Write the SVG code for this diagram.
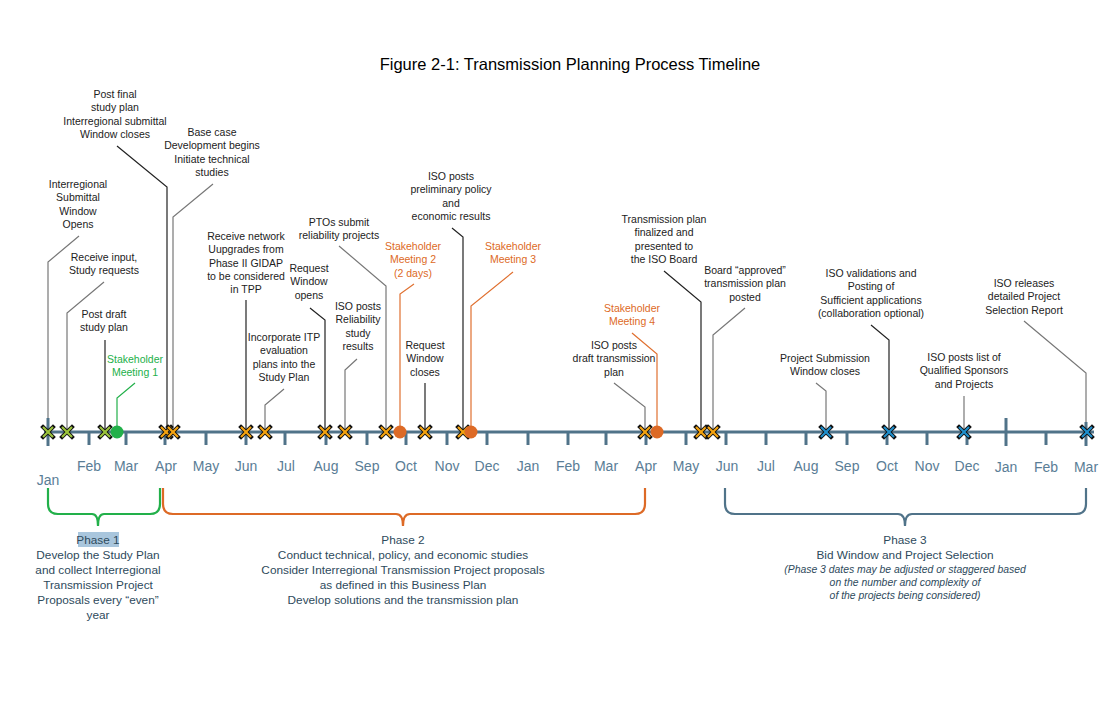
<svg xmlns="http://www.w3.org/2000/svg" width="1117" height="728" viewBox="0 0 1117 728">
<defs>
<style>
.t{font-family:"Liberation Sans",Arial,sans-serif;font-size:10.5px;fill:#222;text-anchor:middle}
.tg{fill:#22b04a}
.to{fill:#dd6a26}
.m{font-family:"Liberation Sans",Arial,sans-serif;font-size:14px;fill:#5a7d96;text-anchor:middle}
.ph{font-family:"Liberation Sans",Arial,sans-serif;font-size:11.8px;fill:#2e4a5c;text-anchor:middle}
.phi{font-family:"Liberation Sans",Arial,sans-serif;font-size:10.4px;font-style:italic;fill:#2e4a5c;text-anchor:middle}
.ld{fill:none;stroke:#222;stroke-width:1.2}
.lg{fill:none;stroke:#777;stroke-width:1.2}
.lo{fill:none;stroke:#e07030;stroke-width:1.2}
.lgr{fill:none;stroke:#22b04a;stroke-width:1.2}
.ax{stroke:#507389;stroke-width:3;fill:none}
.tk{stroke:#507389;stroke-width:3}
.xo{stroke:#111;stroke-width:4;stroke-linecap:square}
.xg{stroke:#9cc43c;stroke-width:2.2}
.xy{stroke:#f5a30f;stroke-width:2.2}
.xb{stroke:#1f8fcc;stroke-width:2.2}
.br{fill:none;stroke-width:2.2}
</style>
<g id="xmk"><line class="xo" x1="-5" y1="-5" x2="5" y2="5"/><line class="xo" x1="-5" y1="5" x2="5" y2="-5"/></g>
</defs>
<rect width="1117" height="728" fill="#fff"/>
<text x="570" y="70" font-family="Liberation Sans, Arial, sans-serif" font-size="16.5" text-anchor="middle" fill="#000">Figure 2-1: Transmission Planning Process Timeline</text>

<g id="connectors">
<polyline class="lg" points="79,236 48,262 48,432"/>
<polyline class="lg" points="104,282 67,313 67,432"/>
<polyline class="ld" points="105,340 105,432"/>
<polyline class="lgr" points="135,383 117,398 117,432"/>
<polyline class="ld" points="117,146 167,187 167,432"/>
<polyline class="lg" points="213,184 173,217 173,432"/>
<polyline class="ld" points="246,300 246,432"/>
<polyline class="lg" points="284,389 265,405 265,432"/>
<polyline class="ld" points="310,308 325,320 325,432"/>
<polyline class="lg" points="357,359 345,370 345,432"/>
<polyline class="lg" points="339,246 386,286 386,432"/>
<polyline class="lo" points="414,284 400,294 400,432"/>
<polyline class="ld" points="425,383 425,432"/>
<polyline class="ld" points="452,228 463,237 463,432"/>
<polyline class="lo" points="513,272 471,306 471,432"/>
<polyline class="lg" points="614,383 645,407 645,432"/>
<polyline class="lo" points="632,333 657,354 657,432"/>
<polyline class="ld" points="664,271 701,302 701,432"/>
<polyline class="lg" points="745,308 713,335 713,432"/>
<polyline class="lg" points="816,383 826,391 826,432"/>
<polyline class="ld" points="871,325 889,340 889,432"/>
<polyline class="lg" points="964,396 964,432"/>
<polyline class="lg" points="1024,321 1086,373 1086,432"/>
</g>

<g id="axis">
<line class="ax" x1="44" y1="432" x2="1094" y2="432"/>
<line class="tk" x1="48" y1="418" x2="48" y2="446"/>
<line class="tk" x1="89" y1="432" x2="89" y2="445"/>
<line class="tk" x1="126" y1="432" x2="126" y2="445"/>
<line class="tk" x1="165" y1="432" x2="165" y2="445"/>
<line class="tk" x1="206" y1="432" x2="206" y2="445"/>
<line class="tk" x1="246" y1="432" x2="246" y2="445"/>
<line class="tk" x1="285" y1="432" x2="285" y2="445"/>
<line class="tk" x1="326" y1="432" x2="326" y2="445"/>
<line class="tk" x1="367" y1="432" x2="367" y2="445"/>
<line class="tk" x1="406" y1="432" x2="406" y2="445"/>
<line class="tk" x1="447" y1="432" x2="447" y2="445"/>
<line class="tk" x1="487" y1="432" x2="487" y2="445"/>
<line class="tk" x1="528" y1="432" x2="528" y2="445"/>
<line class="tk" x1="568" y1="432" x2="568" y2="445"/>
<line class="tk" x1="606" y1="432" x2="606" y2="445"/>
<line class="tk" x1="646" y1="432" x2="646" y2="445"/>
<line class="tk" x1="686" y1="432" x2="686" y2="445"/>
<line class="tk" x1="726" y1="432" x2="726" y2="445"/>
<line class="tk" x1="766" y1="432" x2="766" y2="445"/>
<line class="tk" x1="806" y1="432" x2="806" y2="445"/>
<line class="tk" x1="847" y1="432" x2="847" y2="445"/>
<line class="tk" x1="887" y1="432" x2="887" y2="445"/>
<line class="tk" x1="927" y1="432" x2="927" y2="445"/>
<line class="tk" x1="967" y1="432" x2="967" y2="445"/>
<line class="tk" x1="1006" y1="418" x2="1006" y2="446"/>
<line class="tk" x1="1046" y1="432" x2="1046" y2="445"/>
<line class="tk" x1="1086" y1="422" x2="1086" y2="446"/>
<text class="m" x="48" y="485">Jan</text>
<text class="m" x="89" y="471">Feb</text>
<text class="m" x="126" y="471">Mar</text>
<text class="m" x="166" y="471">Apr</text>
<text class="m" x="206" y="471">May</text>
<text class="m" x="246" y="471">Jun</text>
<text class="m" x="286" y="471">Jul</text>
<text class="m" x="326" y="471">Aug</text>
<text class="m" x="367" y="471">Sep</text>
<text class="m" x="406" y="471">Oct</text>
<text class="m" x="447" y="471">Nov</text>
<text class="m" x="487" y="471">Dec</text>
<text class="m" x="528" y="471">Jan</text>
<text class="m" x="568" y="471">Feb</text>
<text class="m" x="606" y="471">Mar</text>
<text class="m" x="646" y="471">Apr</text>
<text class="m" x="686" y="471">May</text>
<text class="m" x="727" y="471">Jun</text>
<text class="m" x="766" y="471">Jul</text>
<text class="m" x="806" y="471">Aug</text>
<text class="m" x="847" y="471">Sep</text>
<text class="m" x="887" y="471">Oct</text>
<text class="m" x="927" y="471">Nov</text>
<text class="m" x="967" y="471">Dec</text>
<text class="m" x="1006" y="472">Jan</text>
<text class="m" x="1046" y="472">Feb</text>
<text class="m" x="1086" y="472">Mar</text>
</g>

<g id="markers">
<g transform="translate(48,432)"><use href="#xmk"/><line class="xg" x1="-5" y1="-5" x2="5" y2="5"/><line class="xg" x1="-5" y1="5" x2="5" y2="-5"/></g>
<g transform="translate(67,432)"><use href="#xmk"/><line class="xg" x1="-5" y1="-5" x2="5" y2="5"/><line class="xg" x1="-5" y1="5" x2="5" y2="-5"/></g>
<g transform="translate(105,432)"><use href="#xmk"/><line class="xg" x1="-5" y1="-5" x2="5" y2="5"/><line class="xg" x1="-5" y1="5" x2="5" y2="-5"/></g>
<circle cx="117" cy="432" r="6.5" fill="#22b04a"/>
<g transform="translate(166,432)"><use href="#xmk"/><line class="xy" x1="-5" y1="-5" x2="5" y2="5"/><line class="xy" x1="-5" y1="5" x2="5" y2="-5"/></g>
<g transform="translate(173,432)"><use href="#xmk"/><line class="xy" x1="-5" y1="-5" x2="5" y2="5"/><line class="xy" x1="-5" y1="5" x2="5" y2="-5"/></g>
<g transform="translate(246,432)"><use href="#xmk"/><line class="xy" x1="-5" y1="-5" x2="5" y2="5"/><line class="xy" x1="-5" y1="5" x2="5" y2="-5"/></g>
<g transform="translate(265,432)"><use href="#xmk"/><line class="xy" x1="-5" y1="-5" x2="5" y2="5"/><line class="xy" x1="-5" y1="5" x2="5" y2="-5"/></g>
<g transform="translate(325,432)"><use href="#xmk"/><line class="xy" x1="-5" y1="-5" x2="5" y2="5"/><line class="xy" x1="-5" y1="5" x2="5" y2="-5"/></g>
<g transform="translate(345,432)"><use href="#xmk"/><line class="xy" x1="-5" y1="-5" x2="5" y2="5"/><line class="xy" x1="-5" y1="5" x2="5" y2="-5"/></g>
<g transform="translate(386,432)"><use href="#xmk"/><line class="xy" x1="-5" y1="-5" x2="5" y2="5"/><line class="xy" x1="-5" y1="5" x2="5" y2="-5"/></g>
<circle cx="400" cy="432" r="6.5" fill="#dd6a26"/>
<g transform="translate(425,432)"><use href="#xmk"/><line class="xy" x1="-5" y1="-5" x2="5" y2="5"/><line class="xy" x1="-5" y1="5" x2="5" y2="-5"/></g>
<g transform="translate(463,432)"><use href="#xmk"/><line class="xy" x1="-5" y1="-5" x2="5" y2="5"/><line class="xy" x1="-5" y1="5" x2="5" y2="-5"/></g>
<circle cx="471" cy="432" r="6.5" fill="#dd6a26"/>
<g transform="translate(645,432)"><use href="#xmk"/><line class="xy" x1="-5" y1="-5" x2="5" y2="5"/><line class="xy" x1="-5" y1="5" x2="5" y2="-5"/></g>
<circle cx="657" cy="432" r="6.5" fill="#dd6a26"/>
<g transform="translate(701,432)"><use href="#xmk"/><line class="xy" x1="-5" y1="-5" x2="5" y2="5"/><line class="xy" x1="-5" y1="5" x2="5" y2="-5"/></g>
<g transform="translate(713,432)"><use href="#xmk"/><line class="xy" x1="-5" y1="-5" x2="5" y2="5"/><line class="xy" x1="-5" y1="5" x2="5" y2="-5"/></g>
<g transform="translate(826,432)"><use href="#xmk"/><line class="xb" x1="-5" y1="-5" x2="5" y2="5"/><line class="xb" x1="-5" y1="5" x2="5" y2="-5"/></g>
<g transform="translate(889,432)"><use href="#xmk"/><line class="xb" x1="-5" y1="-5" x2="5" y2="5"/><line class="xb" x1="-5" y1="5" x2="5" y2="-5"/></g>
<g transform="translate(964,432)"><use href="#xmk"/><line class="xb" x1="-5" y1="-5" x2="5" y2="5"/><line class="xb" x1="-5" y1="5" x2="5" y2="-5"/></g>
<g transform="translate(1087,432)"><use href="#xmk"/><line class="xb" x1="-5" y1="-5" x2="5" y2="5"/><line class="xb" x1="-5" y1="5" x2="5" y2="-5"/></g>
</g>

<g id="label1"><text class="t" x="78" y="188"><tspan x="78">Interregional</tspan><tspan x="78" dy="13.3">Submittal</tspan><tspan x="78" dy="13.3">Window</tspan><tspan x="78" dy="13.3">Opens</tspan></text></g>
<g id="label2"><text class="t" x="104" y="261"><tspan x="104">Receive input,</tspan><tspan x="104" dy="13.3">Study requests</tspan></text></g>
<g id="label3"><text class="t" x="104" y="318"><tspan x="104">Post draft</tspan><tspan x="104" dy="13.3">study plan</tspan></text></g>
<g id="label4"><text class="t tg" x="135" y="363"><tspan x="135">Stakeholder</tspan><tspan x="135" dy="13.3">Meeting 1</tspan></text></g>
<g id="label5"><text class="t" x="115" y="98"><tspan x="115">Post final</tspan><tspan x="115" dy="13.3">study plan</tspan><tspan x="115" dy="13.3">Interregional submittal</tspan><tspan x="115" dy="13.3">Window closes</tspan></text></g>
<g id="label6"><text class="t" x="212" y="136"><tspan x="212">Base case</tspan><tspan x="212" dy="13.3">Development begins</tspan><tspan x="212" dy="13.3">Initiate technical</tspan><tspan x="212" dy="13.3">studies</tspan></text></g>
<g id="label7"><text class="t" x="246" y="240"><tspan x="246">Receive network</tspan><tspan x="246" dy="13.3">Uupgrades from</tspan><tspan x="246" dy="13.3">Phase II GIDAP</tspan><tspan x="246" dy="13.3">to be considered</tspan><tspan x="246" dy="13.3">in TPP</tspan></text></g>
<g id="label8"><text class="t" x="284" y="341"><tspan x="284">Incorporate ITP</tspan><tspan x="284" dy="13.3">evaluation</tspan><tspan x="284" dy="13.3">plans into the</tspan><tspan x="284" dy="13.3">Study Plan</tspan></text></g>
<g id="label9"><text class="t" x="309" y="272"><tspan x="309">Request</tspan><tspan x="309" dy="13.3">Window</tspan><tspan x="309" dy="13.3">opens</tspan></text></g>
<g id="label10"><text class="t" x="358" y="310"><tspan x="358">ISO posts</tspan><tspan x="358" dy="13.3">Reliability</tspan><tspan x="358" dy="13.3">study</tspan><tspan x="358" dy="13.3">results</tspan></text></g>
<g id="label11"><text class="t" x="339" y="226"><tspan x="339">PTOs submit</tspan><tspan x="339" dy="13.3">reliability projects</tspan></text></g>
<g id="label12"><text class="t to" x="413" y="250"><tspan x="413">Stakeholder</tspan><tspan x="413" dy="13.3">Meeting 2</tspan><tspan x="413" dy="13.3">(2 days)</tspan></text></g>
<g id="label13"><text class="t" x="425" y="349"><tspan x="425">Request</tspan><tspan x="425" dy="13.3">Window</tspan><tspan x="425" dy="13.3">closes</tspan></text></g>
<g id="label14"><text class="t" x="451" y="180"><tspan x="451">ISO posts</tspan><tspan x="451" dy="13.3">preliminary policy</tspan><tspan x="451" dy="13.3">and</tspan><tspan x="451" dy="13.3">economic results</tspan></text></g>
<g id="label15"><text class="t to" x="513" y="250"><tspan x="513">Stakeholder</tspan><tspan x="513" dy="13.3">Meeting 3</tspan></text></g>
<g id="label16"><text class="t" x="614" y="349"><tspan x="614">ISO posts</tspan><tspan x="614" dy="13.3">draft transmission</tspan><tspan x="614" dy="13.3">plan</tspan></text></g>
<g id="label17"><text class="t to" x="632" y="312"><tspan x="632">Stakeholder</tspan><tspan x="632" dy="13.3">Meeting 4</tspan></text></g>
<g id="label18"><text class="t" x="664" y="223"><tspan x="664">Transmission plan</tspan><tspan x="664" dy="13.3">finalized and</tspan><tspan x="664" dy="13.3">presented to</tspan><tspan x="664" dy="13.3">the ISO Board</tspan></text></g>
<g id="label19"><text class="t" x="745" y="274"><tspan x="745">Board “approved”</tspan><tspan x="745" dy="13.3">transmission plan</tspan><tspan x="745" dy="13.3">posted</tspan></text></g>
<g id="label20"><text class="t" x="825" y="362"><tspan x="825">Project Submission</tspan><tspan x="825" dy="13.3">Window closes</tspan></text></g>
<g id="label21"><text class="t" x="871" y="277"><tspan x="871">ISO validations and</tspan><tspan x="871" dy="13.3">Posting of</tspan><tspan x="871" dy="13.3">Sufficient applications</tspan><tspan x="871" dy="13.3">(collaboration optional)</tspan></text></g>
<g id="label22"><text class="t" x="964" y="361"><tspan x="964">ISO posts list of</tspan><tspan x="964" dy="13.3">Qualified Sponsors</tspan><tspan x="964" dy="13.3">and Projects</tspan></text></g>
<g id="label23"><text class="t" x="1024" y="287"><tspan x="1024">ISO releases</tspan><tspan x="1024" dy="13.3">detailed Project</tspan><tspan x="1024" dy="13.3">Selection Report</tspan></text></g>

<g id="phase1">
<path class="br" stroke="#22b04a" d="M48,488 V504 Q48,514 58,514 H92 Q98,514 98,526 Q98,514 104,514 H150 Q160,514 160,504 V488"/>
<rect x="78" y="532" width="41" height="15" fill="#a9c6dd"/>
<text class="ph" x="98" y="544"><tspan x="98">Phase 1</tspan><tspan x="98" dy="15">Develop the Study Plan</tspan><tspan x="98" dy="15">and collect Interregional</tspan><tspan x="98" dy="15">Transmission Project</tspan><tspan x="98" dy="15">Proposals every “even”</tspan><tspan x="98" dy="15">year</tspan></text>
</g>
<g id="phase2">
<path class="br" stroke="#dd6a26" d="M163,488 V504 Q163,514 173,514 H396 Q403,514 403,526 Q403,514 410,514 H635 Q645,514 645,504 V488"/>
<text class="ph" x="403" y="544"><tspan x="403">Phase 2</tspan><tspan x="403" dy="15">Conduct technical, policy, and economic studies</tspan><tspan x="403" dy="15">Consider Interregional Transmission Project proposals</tspan><tspan x="403" dy="15">as defined in this Business Plan</tspan><tspan x="403" dy="15">Develop solutions and the transmission plan</tspan></text>
</g>
<g id="phase3">
<path class="br" stroke="#507389" d="M725,488 V504 Q725,514 735,514 H898 Q905,514 905,526 Q905,514 912,514 H1076 Q1086,514 1086,504 V488"/>
<text class="ph" x="905" y="544"><tspan x="905">Phase 3</tspan><tspan x="905" dy="15">Bid Window and Project Selection</tspan></text>
<text class="phi" x="905" y="573"><tspan x="905">(Phase 3 dates may be adjusted or staggered based</tspan><tspan x="905" dy="13">on the number and complexity of</tspan><tspan x="905" dy="13">of the projects being considered)</tspan></text>
</g>
</svg>
